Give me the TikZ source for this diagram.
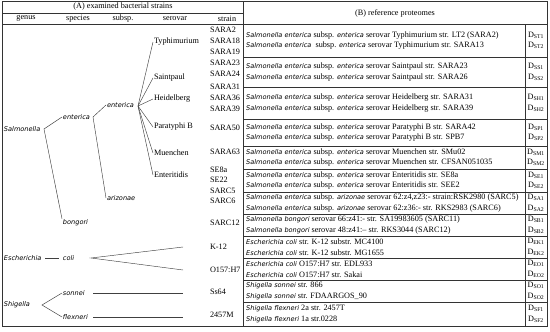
\documentclass[tikz,border=0pt]{standalone}
\usepackage{fontspec}
\setmainfont{Liberation Serif}[ItalicFont={DejaVu Sans Oblique},ItalicFeatures={Scale=0.8}]
\begin{document}
\begin{tikzpicture}[x=1pt,y=-1pt,font=\fontsize{8.2}{9}\selectfont,
  lab/.style={anchor=west,inner sep=0.8pt},
  row/.style={anchor=west,inner sep=0pt},
  dlab/.style={inner sep=0pt},
  rule/.style={line width=0.5pt,black!80},
  branch/.style={line width=0.45pt,black!75}]
\useasboundingbox (0,0) rectangle (550,332);

\draw[rule] (2,1) rectangle (547,326);
\draw[rule] (243,1) -- (243,326);
\draw[rule] (2,13) -- (243,13);
\draw[rule] (2,24) -- (547,24);
\draw[rule] (525,24) -- (525,326);
\draw[rule] (243,57) -- (547,57) (243,87) -- (547,87) (243,119) -- (547,119)
  (243,146) -- (547,146) (243,169) -- (547,169) (243,192) -- (547,192)
  (243,214) -- (547,214) (243,236) -- (547,236) (243,258) -- (547,258)
  (243,280) -- (547,280) (243,302) -- (547,302);

\node (headA) at (123,7) {(A) examined bacterial strains};
\node (headB) at (395,13) {(B) reference proteomes};
\node (hgenus) at (26,18.5) {genus};
\node (hspecies) at (78,18.5) {species};
\node (hsubsp) at (123,18.5) {subsp.};
\node (hserovar) at (175,18.5) {serovar};
\node (hstrain) at (227,18.5) {strain};

\node[lab] (salm) at (3,129) {\textit{Salmonella}};
\node[lab] (spent) at (62,117) {\textit{enterica}};
\node[lab] (spbon) at (62,223) {\textit{bongori}};
\node[lab] (ssent) at (106,105) {\textit{enterica}};
\node[lab] (ssari) at (106,198) {\textit{arizonae}};
\node[lab] (typh) at (153,42) {Typhimurium};
\node[lab] (sain) at (153,78) {Saintpaul};
\node[lab] (heid) at (153,99) {Heidelberg};
\node[lab] (para) at (153,127) {Paratyphi B};
\node[lab] (muen) at (153,153) {Muenchen};
\node[lab] (ente) at (153,175) {Enteritidis};
\coordinate (fsalm) at (44,129);
\coordinate (fspent) at (93,117);
\coordinate (fssent) at (138,106);
\draw[branch] (spent.west) -- (fsalm) -- (spbon.north west);
\draw[branch] (ssent.west) -- (fspent) -- (ssari.west);
\draw[branch] (fssent) -- (typh.west);
\draw[branch] (fssent) -- (sain.west);
\draw[branch] (fssent) -- (heid.west);
\draw[branch] (fssent) -- (para.west);
\draw[branch] (fssent) -- (muen.west);
\draw[branch] (fssent) -- (ente.west);

\node[lab] (esch) at (3,258) {\textit{Escherichia}};
\node[lab] (coli) at (62,258) {\textit{coli}};
\draw[branch,shorten <=3pt,shorten >=3pt] (esch) -- (coli);
\coordinate (fcoli) at (91,258);
\coordinate (ek) at (183,247);
\coordinate (eo) at (183,270);
\draw[branch] (ek) -- (fcoli) -- (eo);

\node[lab] (shig) at (3,305) {\textit{Shigella}};
\node[lab] (sonn) at (62,293) {\textit{sonnei}};
\node[lab] (flex) at (62,317) {\textit{flexneri}};
\coordinate (fshig) at (42,305);
\draw[branch] (sonn.west) -- (fshig) -- (flex.west);
\coordinate (so) at (93,293);
\coordinate (soend) at (183,293);
\coordinate (sf) at (93,317);
\coordinate (sfend) at (183,317);
\draw[branch] (so) -- (soend);
\draw[branch] (sf) -- (sfend);

\node[lab] (sara2) at (209,30) {SARA2};
\node[lab] (sara18) at (209,41) {SARA18};
\node[lab] (sara19) at (209,52) {SARA19};
\node[lab] (sara23) at (209,63) {SARA23};
\node[lab] (sara24) at (209,74) {SARA24};
\node[lab] (sara31) at (209,87) {SARA31};
\node[lab] (sara36) at (209,98) {SARA36};
\node[lab] (sara39) at (209,109) {SARA39};
\node[lab] (sara50) at (209,128) {SARA50};
\node[lab] (sara63) at (209,152) {SARA63};
\node[lab] (se8a) at (209,170) {SE8a};
\node[lab] (se22) at (209,180) {SE22};
\node[lab] (sarc5) at (209,191) {SARC5};
\node[lab] (sarc6) at (209,201) {SARC6};
\node[lab] (sarc12) at (209,223) {SARC12};
\node[lab] (k12) at (209,247) {K-12};
\node[lab] (o157) at (209,270) {O157:H7};
\node[lab] (ss64) at (209,292) {Ss64};
\node[lab] (m2457) at (209,315) {2457M};

\node[row] (st1) at (246,35.2) {\textit{Salmonella enterica} subsp. \textit{enterica} serovar Typhimurium str. LT2 (SARA2)};
\node[row] (st2) at (246,45.8) {\textit{Salmonella enterica}\ \ subsp. \textit{enterica} serovar Typhimurium str. SARA13};
\node[row] (ss1) at (246,66.7) {\textit{Salmonella enterica} subsp. \textit{enterica} serovar Saintpaul str. SARA23};
\node[row] (ss2) at (246,77.3) {\textit{Salmonella enterica} subsp. \textit{enterica} serovar Saintpaul str. SARA26};
\node[row] (sh1) at (246,97.7) {\textit{Salmonella enterica} subsp. \textit{enterica} serovar Heidelberg str. SARA31};
\node[row] (sh2) at (246,108.3) {\textit{Salmonella enterica} subsp. \textit{enterica} serovar Heidelberg str. SARA39};
\node[row] (sp1) at (246,127.2) {\textit{Salmonella enterica} subsp. \textit{enterica} serovar Paratyphi B str. SARA42};
\node[row] (sp2) at (246,137.8) {\textit{Salmonella enterica} subsp. \textit{enterica} serovar Paratyphi B str. SPB7};
\node[row] (sm1) at (246,152.2) {\textit{Salmonella enterica} subsp. \textit{enterica} serovar Muenchen str. SMu02};
\node[row] (sm2) at (246,162.8) {\textit{Salmonella enterica} subsp. \textit{enterica} serovar Muenchen str. CFSAN051035};
\node[row] (se1) at (246,175.2) {\textit{Salmonella enterica} subsp. \textit{enterica} serovar Enteritidis str. SE8a};
\node[row] (se2) at (246,185.8) {\textit{Salmonella enterica} subsp. \textit{enterica} serovar Enteritidis str. SEE2};
\node[row] (sa1) at (246,197.7) {\textit{Salmonella enterica} subsp. \textit{arizonae} serovar 62:z4,z23:- strain:RSK2980 (SARC5)};
\node[row] (sa2) at (246,208.3) {\textit{Salmonella enterica} subsp. \textit{arizonae} serovar 62:z36:- str. RKS2983 (SARC6)};
\node[row] (sb1) at (246,219.7) {\textit{Salmonella bongori} serovar 66:z41:- str. SA19983605 (SARC11)};
\node[row] (sb2) at (246,230.3) {\textit{Salmonella bongori} serovar 48:z41:-- str. RKS3044 (SARC12)};
\node[row] (ek1) at (246,241.7) {\textit{Escherichia coli} str. K-12 substr. MC4100};
\node[row] (ek2) at (246,252.3) {\textit{Escherichia coli} str. K-12 substr. MG1655};
\node[row] (eo1) at (246,263.7) {\textit{Escherichia coli} O157:H7 str. EDL933};
\node[row] (eo2) at (246,274.3) {\textit{Escherichia coli} O157:H7 str. Sakai};
\node[row] (so1) at (246,285.7) {\textit{Shigella sonnei} str. 866};
\node[row] (so2) at (246,296.3) {\textit{Shigella sonnei} str. FDAARGOS\_90};
\node[row] (sf1) at (246,308.7) {\textit{Shigella flexneri} 2a str. 2457T};
\node[row] (sf2) at (246,319.3) {\textit{Shigella flexneri} 1a str.0228};

\node[dlab] (dst1) at (536,35.2) {D\textsubscript{ST1}};
\node[dlab] (dst2) at (536,45.8) {D\textsubscript{ST2}};
\node[dlab] (dss1) at (536,66.7) {D\textsubscript{SS1}};
\node[dlab] (dss2) at (536,77.3) {D\textsubscript{SS2}};
\node[dlab] (dsh1) at (536,97.7) {D\textsubscript{SH1}};
\node[dlab] (dsh2) at (536,108.3) {D\textsubscript{SH2}};
\node[dlab] (dsp1) at (536,127.2) {D\textsubscript{SP1}};
\node[dlab] (dsp2) at (536,137.8) {D\textsubscript{SP2}};
\node[dlab] (dsm1) at (536,152.2) {D\textsubscript{SM1}};
\node[dlab] (dsm2) at (536,162.8) {D\textsubscript{SM2}};
\node[dlab] (dse1) at (536,175.2) {D\textsubscript{SE1}};
\node[dlab] (dse2) at (536,185.8) {D\textsubscript{SE2}};
\node[dlab] (dsa1) at (536,197.7) {D\textsubscript{SA1}};
\node[dlab] (dsa2) at (536,208.3) {D\textsubscript{SA2}};
\node[dlab] (dsb1) at (536,219.7) {D\textsubscript{SB1}};
\node[dlab] (dsb2) at (536,230.3) {D\textsubscript{SB2}};
\node[dlab] (dek1) at (536,241.7) {D\textsubscript{EK1}};
\node[dlab] (dek2) at (536,252.3) {D\textsubscript{EK2}};
\node[dlab] (deo1) at (536,263.7) {D\textsubscript{EO1}};
\node[dlab] (deo2) at (536,274.3) {D\textsubscript{EO2}};
\node[dlab] (dso1) at (536,285.7) {D\textsubscript{SO1}};
\node[dlab] (dso2) at (536,296.3) {D\textsubscript{SO2}};
\node[dlab] (dsf1) at (536,308.7) {D\textsubscript{SF1}};
\node[dlab] (dsf2) at (536,319.3) {D\textsubscript{SF2}};
\end{tikzpicture}
\end{document}
